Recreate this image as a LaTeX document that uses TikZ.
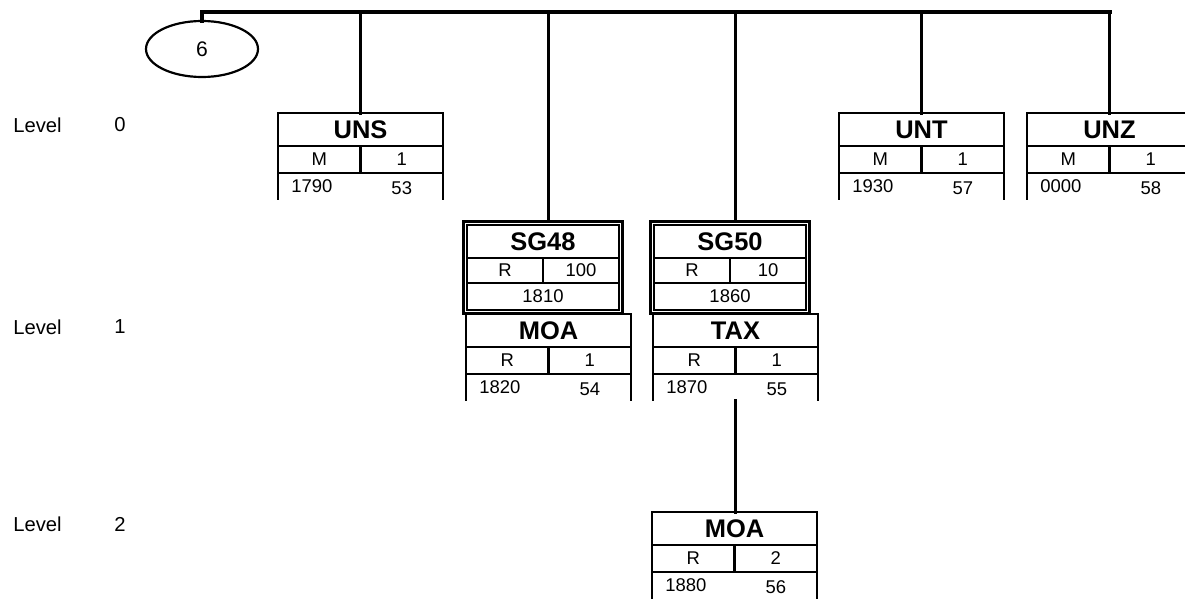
\documentclass[tikz,border=0pt]{standalone}
\usepackage{fontspec}
\setmainfont{Liberation Sans}
\usetikzlibrary{positioning, calc, fit, shapes.geometric}

\begin{document}
\begin{tikzpicture}[
  x=0.02cm, y=-0.02cm,
  lw/.style={line width=1.25pt},
  bus/.style={line width=1.9pt, line cap=rect},
  hdr/.style={draw, lw, minimum width=165*\PX, minimum height=33*\PX,
              inner sep=0pt, outer sep=0pt, font=\fontsize{14.5}{16}\selectfont\bfseries},
  cel/.style={draw, lw, minimum width=82.5*\PX, minimum height=27*\PX,
              inner sep=0pt, outer sep=0pt, font=\fontsize{10.5}{12}\selectfont},
  txt/.style={inner sep=0pt, font=\fontsize{10.5}{12}\selectfont},
  grp/.style={draw, lw, ellipse, minimum width=112*\PX, minimum height=56*\PX,
              inner sep=0pt, outer sep=0pt, font=\fontsize{12}{14}\selectfont},
  lvl/.style={inner sep=0pt, font=\fontsize{11.5}{13}\selectfont},
  sgframe/.style={draw, lw, inner sep=3.5*\PX, outer sep=0pt},
]
%% one unit is one pixel of the 1185x598 sheet, y runs downwards
\def\PX{0.02cm}
\useasboundingbox (0,0) rectangle (1185,598);

%% ---- level captions ----
\foreach \lv/\y in {0/125, 1/327, 2/524} {
  \node[lvl, anchor=west] (lvl\lv) at (13,\y) {Level};
  \node[lvl]              (lvn\lv) at (120,\y) {\lv};
}

%% ---- segment boxes: tag / status, repeat / position, number ----
\foreach \nm/\x/\y/\tag/\st/\rep/\pos/\num in {
    uns/278/113/UNS/M/1/1790/53, unt/839/113/UNT/M/1/1930/57,
    unz/1027/113/UNZ/M/1/0000/58, moaA/466/314/MOA/R/1/1820/54,
    tax/653/314/TAX/R/1/1870/55, moaB/652/512/MOA/R/2/1880/56} {
  \node[hdr, anchor=north west] (\nm) at (\x,\y) {\tag};
  \node[cel, anchor=north west] (\nm-st)  at (\nm.south west) {\st};
  \node[cel, anchor=north east] (\nm-rep) at (\nm.south east) {\rep};
  \draw[lw] (\nm-st.south west) -- ++(0,27);
  \draw[lw] (\nm-rep.south east) -- ++(0,27);
  \node[txt, anchor=west] (\nm-pos) at ($(\nm-st.south west)+(13,13)$) {\pos};
  \node[txt] (\nm-num) at ($(\nm-rep.south)+(0,15)$) {\num};
  \coordinate (\nm-bot) at ($(\nm-st.south east)+(0,27)$);
}

%% ---- segment groups, double framed ----
\foreach \nm/\x/\tag/\rep/\pos in {sgA/467/SG48/100/1810, sgB/654/SG50/10/1860} {
  \node[hdr, minimum width=152*\PX, anchor=north west] (\nm) at (\x,225) {\tag};
  \node[cel, minimum width=76*\PX, minimum height=25*\PX, anchor=north west]
    (\nm-st) at (\nm.south west) {R};
  \node[cel, minimum width=76*\PX, minimum height=25*\PX, anchor=north east]
    (\nm-rep) at (\nm.south east) {\rep};
  \node[cel, minimum width=152*\PX, anchor=north west] (\nm-pos) at (\nm-st.south west) {\pos};
  \node[sgframe, fit=(\nm)(\nm-pos)] (\nm-frame) {};
}

%% ---- the tree ----
\coordinate (busL) at (202,12);
\coordinate (busR) at (1110,12);
\draw[bus] (busL) -- (busR);
\node[grp] (g6) at (202,49) {6};
\draw[bus] (busL) -- (g6);
\foreach \nm in {uns, unt, unz}
  \draw[bus] (\nm.north |- busL) -- (\nm.north);
\draw[bus] (moaA.north |- busL) -- (moaA.north |- sgA-frame.north);
\draw[bus] (tax.north |- busL) -- (tax.north |- sgB-frame.north);
\draw[bus] (tax-bot) -- (tax-bot |- moaB.north);
\end{tikzpicture}
\end{document}
